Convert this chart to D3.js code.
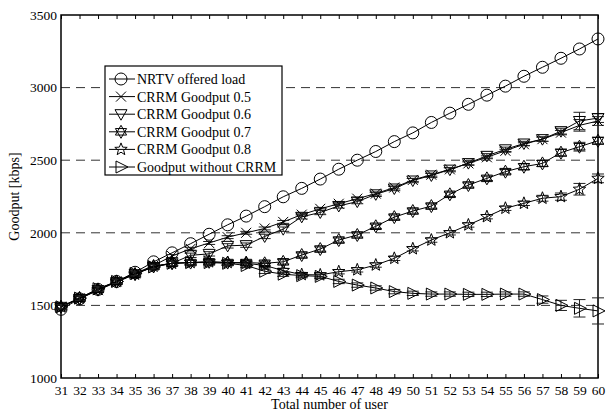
<!DOCTYPE html>
<html><head><meta charset="utf-8">
<script src="https://cdn.jsdelivr.net/npm/d3@7"></script>
<style>body{margin:0;background:#fff}svg{display:block}text{font-family:"Liberation Serif","Times New Roman",serif;fill:#000}</style>
</head><body><svg id="c" width="606" height="412"></svg>
<script>
const users = d3.range(31, 61);
const yTicks = [1000, 1500, 2000, 2500, 3000, 3500];
const gridValues = [1500, 2000, 2500, 3000];
const seriesNames = ["NRTV offered load","CRRM Goodput 0.5","CRRM Goodput 0.6","CRRM Goodput 0.7","CRRM Goodput 0.8","Goodput without CRRM"];
const offered = [1473,1545,1610,1665,1728,1800,1862,1925,1990,2055,2115,2180,2248,2306,2370,2438,2500,2560,2628,2688,2760,2824,2885,2948,3010,3078,3140,3202,3266,3335];
const g05 = [1490,1550,1605,1665,1720,1775,1840,1890,1930,1970,2000,2030,2075,2125,2165,2200,2235,2270,2312,2364,2400,2437,2478,2520,2565,2610,2645,2690,2740,2770];
const g06 = [1490,1545,1605,1660,1715,1765,1790,1845,1855,1910,1915,1975,2025,2110,2140,2185,2215,2265,2305,2360,2395,2435,2480,2530,2575,2615,2645,2700,2770,2790];
const g07 = [1490,1550,1610,1665,1715,1770,1790,1795,1800,1795,1795,1790,1800,1847,1888,1950,1985,2045,2108,2150,2184,2265,2329,2375,2421,2455,2478,2552,2593,2634];
const g08 = [1490,1550,1610,1665,1715,1770,1790,1795,1800,1795,1790,1775,1740,1712,1710,1732,1745,1778,1824,1890,1950,2000,2054,2111,2169,2203,2238,2249,2300,2375];
const gNo = [1490,1550,1615,1665,1720,1765,1790,1795,1795,1790,1775,1735,1715,1705,1700,1665,1640,1620,1595,1583,1578,1578,1576,1576,1578,1578,1540,1500,1480,1462];
const err05 = [10,10,10,10,10,10,10,10,10,10,10,10,10,10,10,10,10,10,10,10,10,10,10,10,10,10,15,15,40,30];
const err06 = [15,15,15,15,15,15,15,15,15,15,15,15,15,15,15,15,15,15,15,15,15,15,15,15,15,15,15,20,60,30];
const err07 = [15,15,15,15,15,15,15,15,15,15,15,15,15,15,15,15,15,15,15,15,15,15,15,15,15,20,20,25,30,25];
const err08 = [15,15,15,15,15,15,15,15,15,15,15,15,15,15,15,15,15,15,15,15,15,15,15,15,15,15,20,25,40,30];
const errNo = [15,15,15,15,15,15,15,15,15,15,15,15,15,15,15,15,15,15,15,15,15,15,15,15,15,15,25,35,60,90];

const svg = d3.select("#c");
const x = d3.scaleLinear().domain([31, 60]).range([61, 598]);
const y = d3.scaleLinear().domain([1000, 3500]).range([378, 15]);

// grid
svg.append("g").selectAll("line").data(gridValues).join("line")
  .attr("x1", x(31)).attr("x2", x(60)).attr("y1", d => y(d)).attr("y2", d => y(d))
  .attr("stroke", "#333").attr("stroke-width", 1).attr("stroke-dasharray", "9,6");

// axes
const xb = svg.append("g").attr("transform", `translate(0,${y(1000)})`)
  .call(d3.axisBottom(x).tickValues(users).tickFormat(d3.format("d")).tickSizeInner(-4).tickSizeOuter(0).tickPadding(7));
xb.select(".domain").remove();
xb.selectAll("text").style("font-size", "13.5px");
const xt = svg.append("g").attr("transform", `translate(0,${y(3500)})`)
  .call(d3.axisTop(x).tickValues(users).tickFormat("").tickSizeInner(-4).tickSizeOuter(0));
xt.select(".domain").remove();
const yl = svg.append("g").attr("transform", `translate(${x(31)},0)`)
  .call(d3.axisLeft(y).tickValues(yTicks).tickFormat(d3.format("d")).tickSize(0).tickPadding(4));
yl.select(".domain").remove();
yl.selectAll("text").style("font-size", "13.5px");
svg.selectAll(".tick line").attr("stroke", "#000");

svg.append("rect").attr("x", x(31)).attr("y", y(3500)).attr("width", x(60) - x(31)).attr("height", y(1000) - y(3500))
  .attr("fill", "none").attr("stroke", "#000").attr("stroke-width", 1.5);

svg.append("text").attr("x", (x(31) + x(60)) / 2).attr("y", 409).attr("text-anchor", "middle").style("font-size", "14px").text("Total number of user");
svg.append("text").attr("transform", `translate(19,${y(2250)}) rotate(-90)`).attr("text-anchor", "middle").style("font-size", "14px").text("Goodput [kbps]");

// marker shapes
function starPath(n, ro, ri) {
  let p = [];
  for (let i = 0; i < 2 * n; i++) {
    const r = i % 2 ? ri : ro, a = -Math.PI / 2 + i * Math.PI / n;
    p.push([r * Math.cos(a), r * Math.sin(a)]);
  }
  return "M" + p.map(q => q[0].toFixed(2) + "," + q[1].toFixed(2)).join("L") + "Z";
}
const markers = {
  circle: "M6,0A6,6 0 1,1 -6,0A6,6 0 1,1 6,0Z",
  cross: "M-5,-5L5,5M-5,5L5,-5",
  tdown: "M-6,-4.5L6,-4.5L0,6Z",
  hex: "M0,-6.5L5.6,3.25L-5.6,3.25Z M0,6.5L5.6,-3.25L-5.6,-3.25Z",
  star: starPath(5, 6.5, 2.8),
  tright: "M-5,-6L7,0L-5,6Z"
};
const series = [
  {name: seriesNames[0], v: offered, e: null, m: "circle"},
  {name: seriesNames[1], v: g05, e: err05, m: "cross"},
  {name: seriesNames[2], v: g06, e: err06, m: "tdown"},
  {name: seriesNames[3], v: g07, e: err07, m: "hex"},
  {name: seriesNames[4], v: g08, e: err08, m: "star"},
  {name: seriesNames[5], v: gNo, e: errNo, m: "tright"}
];
const line = d3.line().x((d, i) => x(users[i])).y(d => y(d));
series.forEach(s => {
  const g = svg.append("g");
  g.append("path").attr("d", line(s.v)).attr("fill", "none").attr("stroke", "#000").attr("stroke-width", 1);
  if (s.e) {
    s.v.forEach((v, i) => {
      const cx = x(users[i]), t = y(v + s.e[i]), b = y(v - s.e[i]);
      g.append("path").attr("d", `M${cx},${t}L${cx},${b}M${cx - 6},${t}L${cx + 6},${t}M${cx - 6},${b}L${cx + 6},${b}`)
        .attr("stroke", "#222").attr("stroke-width", 1).attr("fill", "none");
    });
  }
  g.selectAll(".m").data(s.v).join("path").attr("class", "m")
    .attr("transform", (d, i) => `translate(${x(users[i])},${y(d)})`)
    .attr("d", markers[s.m]).attr("fill", "none").attr("stroke", "#000").attr("stroke-width", 1);
});

// legend
const lg = svg.append("g");
lg.append("rect").attr("x", 105).attr("y", 66).attr("width", 177).attr("height", 109)
  .attr("fill", "#fff").attr("stroke", "#000").attr("stroke-width", 1.2);
series.forEach((s, i) => {
  const ly = 79 + i * 17.6;
  lg.append("line").attr("x1", 109).attr("x2", 135).attr("y1", ly).attr("y2", ly).attr("stroke", "#000");
  lg.append("path").attr("transform", `translate(121,${ly})`).attr("d", markers[s.m]).attr("fill", "none").attr("stroke", "#000");
  lg.append("text").attr("x", 137).attr("y", ly + 5).style("font-size", "14px").text(s.name);
});
</script></body></html>
